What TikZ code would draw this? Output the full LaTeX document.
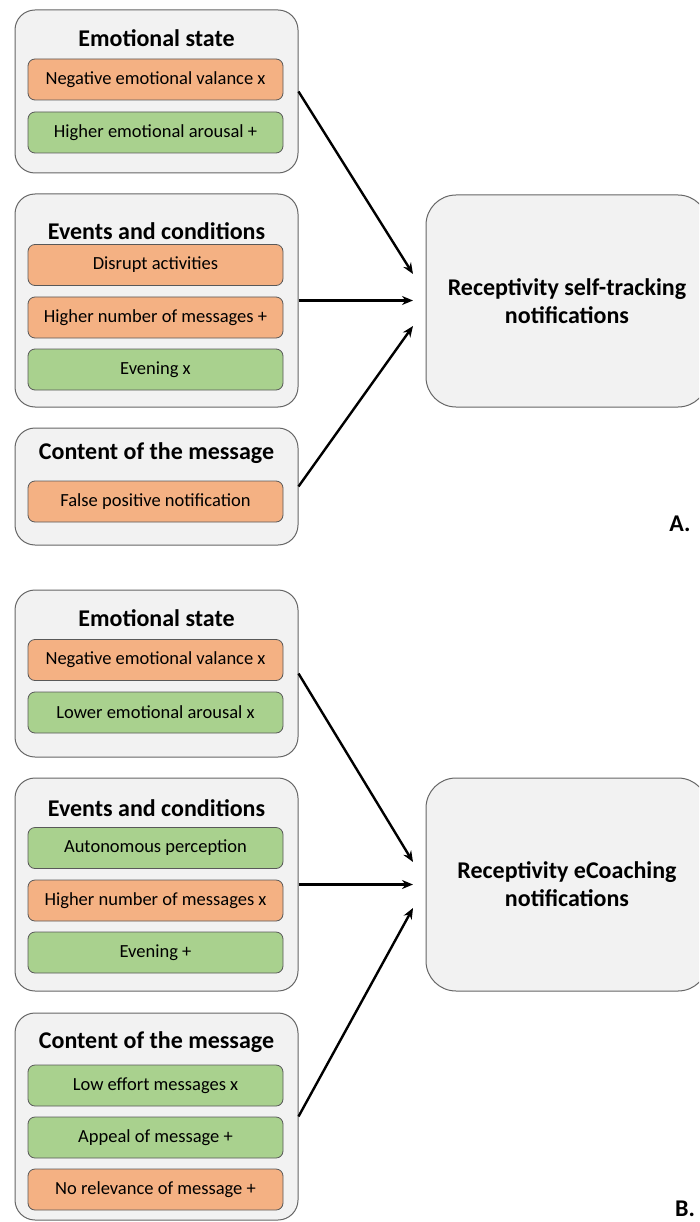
\documentclass[tikz,border=0pt]{standalone}
\usepackage{fontspec}
\setmainfont{Carlito}
\usetikzlibrary{arrows.meta}

\definecolor{grpfill}{HTML}{F2F2F2}
\definecolor{neg}{HTML}{F4B183}
\definecolor{pos}{HTML}{A9D18E}

\begin{document}
\begin{tikzpicture}[x=1pt, y=-1pt, font=\fontsize{18.5}{22}\selectfont,
  group/.style={draw=black!60, fill=grpfill, line width=1pt, rounded corners=20pt,
                minimum width=283pt, minimum height=#1},
  head/.style={font=\fontsize{24}{29}\selectfont\bfseries},
  item/.style={draw=black!65, line width=0.8pt, rounded corners=7pt, minimum width=255pt,
               minimum height=41pt, fill=#1},
  target/.style={draw=black!60, fill=grpfill, line width=1pt, rounded corners=30pt,
                 minimum width=282pt, minimum height=#1, align=center,
                 font=\fontsize{24}{28}\selectfont\bfseries},
  arr/.style={-{Stealth[length=11pt, width=9pt]}, line width=2.4pt}
]
  \useasboundingbox (0,0) rectangle (699,1222);
  \begin{scope}
  \clip (0,0) rectangle (699,1222);

  % A. self-tracking
  \node[group=163pt] (emoA) at (156.5, 91.5) {};
  \node[head] (emoAh) at (156.5, 38) {Emotional state};
  \node[item=neg] (emoA1) at (155.5, 79.5) {Negative emotional valance x};
  \node[item=pos] (emoA2) at (155.5, 132.5) {Higher emotional arousal +};

  \node[group=213pt] (evtA) at (156.5, 300.5) {};
  \node[head] (evtAh) at (156.5, 231) {Events and conditions};
  \node[item=neg] (evtA1) at (155.5, 265) {Disrupt activities};
  \node[item=neg] (evtA2) at (155.5, 317.5) {Higher number of messages +};
  \node[item=pos] (evtA3) at (155.5, 369.5) {Evening x};

  \node[group=117pt] (conA) at (156.5, 486.5) {};
  \node[head] (conAh) at (156.5, 453) {Content of the message};
  \node[item=neg] (conA1) at (155.5, 501.5) {False positive notification};

  \node[target=212pt] (recA) at (567, 301) {Receptivity self-tracking\\notifications};
  \node[head] (labA) at (680, 524) {A.};

  \coordinate (inA1) at (413, 274);
  \coordinate (inA2) at (413, 300.5);
  \coordinate (inA3) at (413, 326);
  \draw[arr] (emoA.east) -- (inA1);
  \draw[arr] (evtA.east) -- (inA2);
  \draw[arr] (conA.east) -- (inA3);

  % B. eCoaching
  \node[group=167pt] (emoB) at (156.5, 673.5) {};
  \node[head] (emoBh) at (156.5, 618) {Emotional state};
  \node[item=neg] (emoB1) at (155.5, 660) {Negative emotional valance x};
  \node[item=pos] (emoB2) at (155.5, 712.5) {Lower emotional arousal x};

  \node[group=213pt] (evtB) at (156.5, 884.5) {};
  \node[head] (evtBh) at (156.5, 808) {Events and conditions};
  \node[item=pos] (evtB1) at (155.5, 848) {Autonomous perception};
  \node[item=neg] (evtB2) at (155.5, 900.5) {Higher number of messages x};
  \node[item=pos] (evtB3) at (155.5, 952.5) {Evening +};

  \node[group=207pt] (conB) at (156.5, 1116.5) {};
  \node[head] (conBh) at (156.5, 1042) {Content of the message};
  \node[item=pos] (conB1) at (155.5, 1085.5) {Low effort messages x};
  \node[item=pos] (conB2) at (155.5, 1137.5) {Appeal of message +};
  \node[item=neg] (conB3) at (155.5, 1189.5) {No relevance of message +};

  \node[target=213pt] (recB) at (567, 884.5) {Receptivity eCoaching\\notifications};
  \node[head] (labB) at (685, 1209) {B.};

  \coordinate (inB1) at (413, 862);
  \coordinate (inB2) at (413, 884.5);
  \coordinate (inB3) at (413, 908);
  \draw[arr] (emoB.east) -- (inB1);
  \draw[arr] (evtB.east) -- (inB2);
  \draw[arr] (conB.east) -- (inB3);
  \end{scope}
\end{tikzpicture}
\end{document}
